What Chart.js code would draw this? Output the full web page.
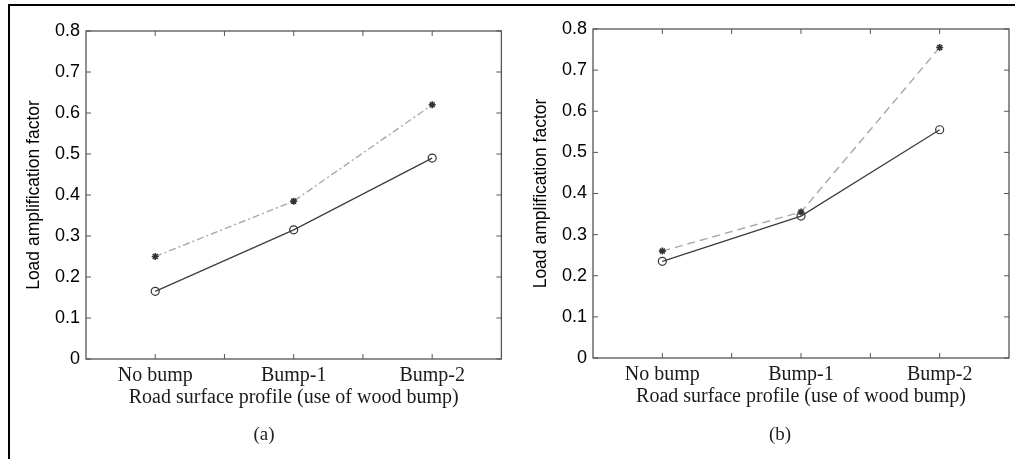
<!DOCTYPE html>
<html lang="en">
<head>
    <meta charset="UTF-8">
    <title>Load amplification factor</title>
    <script src="https://cdn.jsdelivr.net/npm/chart.js"></script>
    <style>
        body { margin: 0; background: #fff; }
        #page { position: relative; width: 1015px; height: 459px; overflow: hidden; }
        #frame { position: absolute; left: 8px; top: 4px; width: 1100px; height: 500px;
                 border-left: 2px solid #000; border-top: 2px solid #000; }
        .panel { position: absolute; top: 0; height: 459px; }
        .caption { position: absolute; top: 423px; width: 60px; text-align: center;
                   font: 19px "Liberation Serif", serif; color: #222; }
    </style>
</head>
<body>
<div id="page">
    <div id="frame"></div>
    <div class="panel" style="left:0;width:507px"><canvas id="chartA" width="507" height="459"></canvas></div>
    <div class="panel" style="left:507px;width:508px"><canvas id="chartB" width="508" height="459"></canvas></div>
    <div class="caption" style="left:234px">(a)</div>
    <div class="caption" style="left:750px">(b)</div>
</div>

<script>
    // data
    const categories = ['No bump', 'Bump-1', 'Bump-2'];
    const yTicks = [0, 0.1, 0.2, 0.3, 0.4, 0.5, 0.6, 0.7, 0.8];
    const circleA = [0.165, 0.315, 0.49];
    const starA = [0.25, 0.385, 0.62];
    const circleB = [0.235, 0.345, 0.555];
    const starB = [0.26, 0.355, 0.755];

    // MATLAB style box with inward tick marks
    const boxTicks = {
        id: 'boxTicks',
        afterDraw(chart) {
            const c = chart.ctx, a = chart.chartArea;
            const xs = chart.scales.x, ys = chart.scales.y;
            c.save();
            c.strokeStyle = '#555';
            c.lineWidth = 1.3;
            c.strokeRect(a.left, a.top, a.right - a.left, a.bottom - a.top);
            c.lineWidth = 1;
            c.beginPath();
            yTicks.forEach(v => {
                const y = ys.getPixelForValue(v);
                c.moveTo(a.left, y); c.lineTo(a.left + 5, y);
                c.moveTo(a.right, y); c.lineTo(a.right - 5, y);
            });
            for (let v = 0; v <= 2; v += 0.5) {
                const x = xs.getPixelForValue(v);
                c.moveTo(x, a.bottom); c.lineTo(x, a.bottom - 5);
                c.moveTo(x, a.top); c.lineTo(x, a.top + 5);
            }
            c.stroke();
            c.restore();
        }
    };

    function makeChart(id, circles, stars, dash, pad) {
        return new Chart(document.getElementById(id), {
            type: 'line',
            data: {
                labels: categories,
                datasets: [{
                    data: circles,
                    borderColor: '#3c3c3c',
                    borderWidth: 1.2,
                    pointStyle: 'circle',
                    pointRadius: 4,
                    pointBorderWidth: 1.2,
                    pointBorderColor: '#333',
                    pointBackgroundColor: 'rgba(255,255,255,0)',
                    fill: false,
                }, {
                    data: stars,
                    borderColor: '#a8a8a8',
                    borderWidth: 1.4,
                    borderDash: dash,
                    pointStyle: 'star',
                    pointRadius: 3.5,
                    pointBorderWidth: 1.6,
                    pointBorderColor: '#333',
                    fill: false,
                }],
            },
            options: {
                responsive: false,
                animation: false,
                layout: { padding: pad },
                plugins: { legend: { display: false }, tooltip: { enabled: false } },
                scales: {
                    x: {
                        type: 'category',
                        offset: true,
                        grid: { display: false, drawTicks: false },
                        border: { display: false },
                        ticks: { color: '#1a1a1a', padding: 5, font: { family: 'Liberation Serif', size: 20 } },
                        title: {
                            display: true,
                            text: 'Road surface profile (use of wood bump)',
                            color: '#1a1a1a',
                            padding: 0,
                            font: { family: 'Liberation Serif', size: 20 },
                        },
                        afterFit: s => { s.height = 51; },
                    },
                    y: {
                        min: 0,
                        max: 0.8,
                        grid: { display: false, drawTicks: false },
                        border: { display: false },
                        ticks: {
                            stepSize: 0.1,
                            padding: 6,
                            color: '#000',
                            font: { family: 'Liberation Sans', size: 18 },
                            callback: v => (v === 0 ? '0' : v.toFixed(1)),
                        },
                        title: {
                            display: true,
                            text: 'Load amplification factor',
                            color: '#000',
                            padding: { top: 24, bottom: 0 },
                            font: { family: 'Liberation Sans', size: 17.5 },
                        },
                        afterFit: s => { s.width = 86; },
                    },
                },
            },
            plugins: [boxTicks],
        });
    }

    makeChart('chartA', circleA, starA, [7, 3, 2, 3], { top: 31, right: 5, bottom: 49, left: 0 });
    makeChart('chartB', circleB, starB, [8, 5], { top: 29, right: 6, bottom: 50, left: 0 });
</script>
</body>
</html>
